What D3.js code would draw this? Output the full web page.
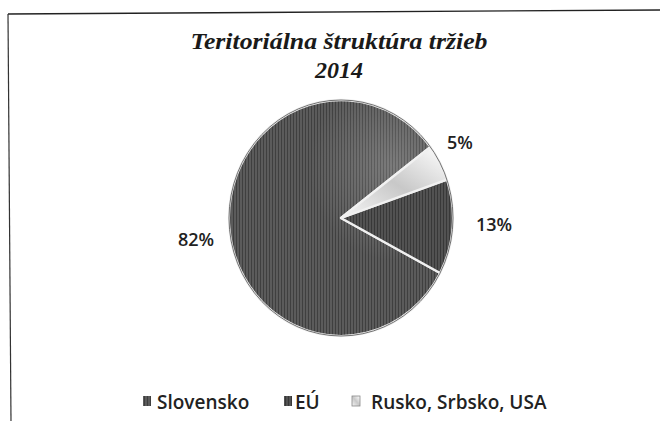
<!DOCTYPE html>
<html><head><meta charset="utf-8">
<script src="https://cdn.jsdelivr.net/npm/d3@7"></script>
<style>body{margin:0;background:#fff}svg{display:block}</style>
</head><body>
<script>
const categories = ["Slovensko", "EÚ", "Rusko, Srbsko, USA"];
const values = [82, 13, 5];
const labels = ["82%", "13%", "5%"];
const titleLines = ["Teritoriálna štruktúra tržieb", "2014"];

const W = 660, H = 421;
const svg = d3.select("body").append("svg").attr("width", W).attr("height", H);
const defs = svg.append("defs");

function stripes(id, base, line) {
  const p = defs.append("pattern").attr("id", id).attr("patternUnits", "userSpaceOnUse")
    .attr("width", 3).attr("height", 10);
  p.append("rect").attr("width", 3).attr("height", 10).attr("fill", base);
  p.append("rect").attr("x", 0).attr("width", 1).attr("height", 10).attr("fill", line);
}
stripes("pSlov", "#5b5b5b", "#3f3f3f");
stripes("pEU", "#525252", "#383838");
const g3 = defs.append("linearGradient").attr("id", "gRus").attr("x1", 0).attr("y1", 1).attr("x2", 1).attr("y2", 0);
g3.append("stop").attr("offset", "0").attr("stop-color", "#f6f6f6");
g3.append("stop").attr("offset", "0.5").attr("stop-color", "#c8c8c8");
g3.append("stop").attr("offset", "1").attr("stop-color", "#ffffff");
const sheen = defs.append("radialGradient").attr("id", "gSheen").attr("cx", 0.78).attr("cy", 0.28).attr("r", 0.4);
sheen.append("stop").attr("offset", "0").attr("stop-color", "#ffffff").attr("stop-opacity", 0.2);
sheen.append("stop").attr("offset", "1").attr("stop-color", "#ffffff").attr("stop-opacity", 0);

const fills = ["url(#pSlov)", "url(#pEU)", "url(#gRus)"];

// frame
svg.append("line").attr("x1", 8).attr("y1", 14).attr("x2", 660).attr("y2", 10).attr("stroke", "#222").attr("stroke-width", 1.3);
svg.append("line").attr("x1", 8).attr("y1", 14).attr("x2", 11).attr("y2", 421).attr("stroke", "#333").attr("stroke-width", 1.2);

// title
const tfont = sel => sel.attr("text-anchor", "middle").attr("font-family", "Liberation Serif")
  .attr("font-style", "italic").attr("font-weight", "bold").attr("font-size", 24).attr("fill", "#1a1a1a");
svg.append("text").attr("x", 339).attr("y", 49).call(tfont)
  .attr("textLength", 297).attr("lengthAdjust", "spacingAndGlyphs").text(titleLines[0]);
svg.append("text").attr("x", 339).attr("y", 78).call(tfont).text(titleLines[1]);

// pie
const cx = 341, cy = 218, r = 112, sy = 118 / 112;
const deg = Math.PI / 180;
const pie = d3.pie().sort(null).value(d => d).startAngle(53 * deg).endAngle((53 - 360) * deg);
const arcs = pie(values);
const arc = d3.arc().innerRadius(0).outerRadius(r);
const pg = svg.append("g").attr("transform", `translate(${cx},${cy}) scale(1,${sy})`);
pg.selectAll("path.slice").data(arcs).join("path").attr("class", "slice")
  .attr("d", arc).attr("fill", (d, i) => fills[i])
  .attr("stroke", "#f0f0f0").attr("stroke-width", 2.2).attr("stroke-linejoin", "round");
pg.append("path").attr("d", arc({startAngle: arcs[0].startAngle, endAngle: arcs[0].endAngle}))
  .attr("fill", "url(#gSheen)");
pg.append("circle").attr("r", r).attr("fill", "none").attr("stroke", "#555").attr("stroke-width", 0.8);

// percent labels
const labelPos = [[196, 246], [494, 231], [460, 149]];
svg.selectAll("text.pct").data(arcs).join("text").attr("class", "pct")
  .attr("x", (d, i) => labelPos[i][0]).attr("y", (d, i) => labelPos[i][1])
  .attr("text-anchor", "middle").attr("font-family", "Open Sans").attr("font-weight", 600)
  .attr("font-size", 18).attr("fill", "#222").text((d, i) => labels[i]);

// legend
const legX = [143, 284, 352];
const legTX = [157, 295, 371];
const lg = svg.append("g");
categories.forEach((c, i) => {
  lg.append("rect").attr("x", legX[i]).attr("y", 396).attr("width", 8).attr("height", 10)
    .attr("fill", fills[i]).attr("stroke", i === 2 ? "#888" : "none").attr("stroke-width", 0.8);
  lg.append("text").attr("x", legTX[i]).attr("y", 409)
    .attr("font-family", "Open Sans").attr("font-weight", 600).attr("font-size", 19)
    .attr("fill", "#222").text(c);
});
</script>
</body></html>
